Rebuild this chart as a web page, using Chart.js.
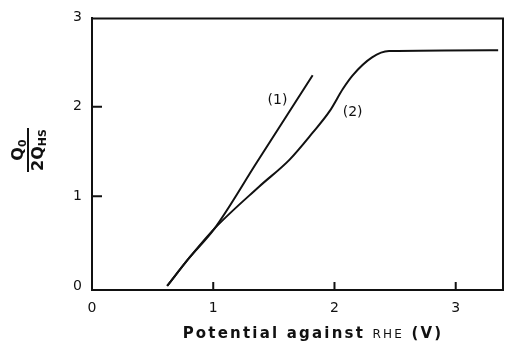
<!DOCTYPE html>
<html>
<head>
<meta charset="utf-8">
<script src="https://cdn.jsdelivr.net/npm/chart.js@4/dist/chart.umd.min.js"></script>
<style>
  html, body { margin: 0; padding: 0; background: #fff; }
  canvas { display: block; }
</style>
</head>
<body>
<canvas id="chart" width="505" height="341"></canvas>
<script>
// curve (1) and curve (2), potential in V vs RHE
const potential1 = [0.62, 0.80, 1.01, 1.36, 1.82];
const charge1    = [0.00, 0.31, 0.64, 1.38, 2.35];

const potential2 = [0.62, 0.80, 1.01, 1.38, 1.63, 1.82, 1.96, 2.07, 2.15, 2.31, 2.45, 3.35];
const charge2    = [0.00, 0.31, 0.64, 1.11, 1.41, 1.71, 1.95, 2.20, 2.35, 2.55, 2.62, 2.63];

const xTicks = [0, 1, 2, 3];
const yTicks = [0, 1, 2, 3];
const curveNames = ["(1)", "(2)"];

const ink = "#111";
const font = "'DejaVu Sans', sans-serif";

function toPoints(xs, ys) {
  return xs.map((x, i) => ({ x: x, y: ys[i] }));
}

// inward tick marks, frame and texts
const decor = {
  id: "decor",
  afterDatasetsDraw(chart) {
    const ctx = chart.ctx;
    const a = chart.chartArea;
    const xs = chart.scales.x, ys = chart.scales.y;
    ctx.save();
    ctx.strokeStyle = ink;
    ctx.lineWidth = 2;
    ctx.beginPath();
    ctx.moveTo(a.left, a.top); ctx.lineTo(a.right, a.top); ctx.lineTo(a.right, a.bottom);
    [1, 2, 3].forEach(v => {
      const px = xs.getPixelForValue(v);
      ctx.moveTo(px, a.bottom); ctx.lineTo(px, a.bottom - 8);
    });
    [1, 2].forEach(v => {
      const py = ys.getPixelForValue(v);
      ctx.moveTo(a.left, py); ctx.lineTo(a.left + 10, py);
    });
    ctx.stroke();

    // curve names
    ctx.fillStyle = ink;
    ctx.font = "14px " + font;
    ctx.textAlign = "center";
    ctx.textBaseline = "middle";
    ctx.fillText(curveNames[0], xs.getPixelForValue(1.53), ys.getPixelForValue(2.07));
    ctx.fillText(curveNames[1], xs.getPixelForValue(2.15), ys.getPixelForValue(1.94));

    // x title, wide lettering
    ctx.textAlign = "left";
    ctx.textBaseline = "alphabetic";
    ctx.letterSpacing = "2.2px";
    const p1 = "Potential against ", p2 = "RHE", p3 = " (V)";
    ctx.font = "bold 15px " + font;
    const w1 = ctx.measureText(p1).width, w3 = ctx.measureText(p3).width;
    ctx.font = "12px " + font;
    const w2 = ctx.measureText(p2).width;
    let tx = 313 - (w1 + w2 + w3) / 2;
    const ty = 338;
    ctx.font = "bold 15px " + font;
    ctx.fillText(p1, tx, ty); tx += w1;
    ctx.font = "12px " + font;
    ctx.fillText(p2, tx, ty); tx += w2;
    ctx.font = "bold 15px " + font;
    ctx.fillText(p3, tx, ty);
    ctx.letterSpacing = "0px";

    // y title as a fraction, rotated
    ctx.translate(28, 150);
    ctx.rotate(-Math.PI / 2);
    ctx.font = "bold 16px " + font;
    const qw = ctx.measureText("Q").width;
    ctx.font = "bold 11px " + font;
    const zw = ctx.measureText("0").width;
    let sx = -(qw + zw) / 2;
    ctx.font = "bold 16px " + font;
    ctx.fillText("Q", sx, -5);
    ctx.font = "bold 11px " + font;
    ctx.fillText("0", sx + qw, -2);

    ctx.font = "bold 16px " + font;
    const dw = ctx.measureText("2Q").width;
    ctx.font = "bold 11px " + font;
    const hw = ctx.measureText("HS").width;
    sx = -(dw + hw) / 2;
    ctx.font = "bold 16px " + font;
    ctx.fillText("2Q", sx, 15);
    ctx.font = "bold 11px " + font;
    ctx.fillText("HS", sx + dw, 18);

    ctx.beginPath();
    ctx.moveTo(-(dw + hw) / 2 - 1, 0);
    ctx.lineTo((dw + hw) / 2 + 1, 0);
    ctx.lineWidth = 2;
    ctx.stroke();
    ctx.restore();
  }
};

const lineStyle = {
  showLine: true,
  borderColor: ink,
  borderWidth: 2,
  pointRadius: 0,
  cubicInterpolationMode: "monotone",
  fill: false
};

new Chart(document.getElementById("chart"), {
  type: "scatter",
  data: {
    datasets: [
      Object.assign({ label: curveNames[0], data: toPoints(potential1, charge1) }, lineStyle),
      Object.assign({ label: curveNames[1], data: toPoints(potential2, charge2) }, lineStyle)
    ]
  },
  options: {
    responsive: false,
    animation: false,
    layout: { padding: { left: 0, top: 15, right: 2, bottom: 0 } },
    plugins: { legend: { display: false }, tooltip: { enabled: false } },
    scales: {
      x: {
        type: "linear",
        min: 0,
        max: 3.39,
        afterBuildTicks: s => { s.ticks = xTicks.map(v => ({ value: v })); },
        afterFit: s => { s.height = 51; },
        grid: { display: false, drawTicks: false },
        border: { display: true, color: ink, width: 2 },
        ticks: { color: ink, padding: 10, font: { family: font, size: 14 } }
      },
      y: {
        type: "linear",
        min: -0.045,
        max: 2.985,
        afterBuildTicks: s => { s.ticks = yTicks.map(v => ({ value: v })); },
        afterFit: s => { s.width = 92; },
        grid: { display: false, drawTicks: false },
        border: { display: true, color: ink, width: 2 },
        ticks: { color: ink, padding: 10, font: { family: font, size: 14 } }
      }
    }
  },
  plugins: [decor]
});
</script>
</body>
</html>
